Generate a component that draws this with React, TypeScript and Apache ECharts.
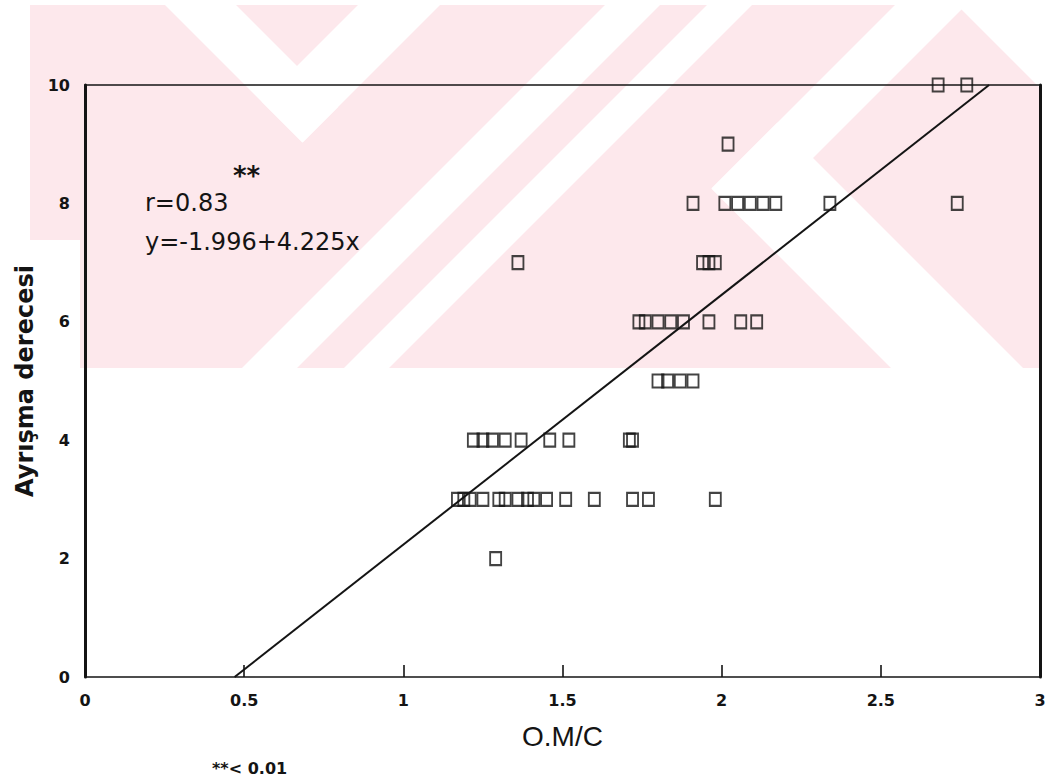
import React, { useEffect, useRef } from 'react';
import * as echarts from 'echarts';

// ---- data ----
const xTickLabels = ['0', '0.5', '1', '1.5', '2', '2.5', '3'];
const yTickLabels = ['0', '2', '4', '6', '8', '10'];

// O.M/C values observed at each "Ayrışma derecesi" level
const omcDeg10 = [2.68, 2.77];
const omcDeg9 = [2.02];
const omcDeg8 = [1.91, 2.01, 2.05, 2.09, 2.13, 2.17, 2.34, 2.74];
const omcDeg7 = [1.36, 1.94, 1.96, 1.98];
const omcDeg6 = [1.74, 1.76, 1.8, 1.84, 1.88, 1.96, 2.06, 2.11];
const omcDeg5 = [1.8, 1.83, 1.87, 1.91];
const omcDeg4 = [1.22, 1.25, 1.28, 1.32, 1.37, 1.46, 1.52, 1.71, 1.72];
const omcDeg3 = [1.17, 1.19, 1.21, 1.25, 1.3, 1.32, 1.36, 1.39, 1.41, 1.45, 1.51, 1.6, 1.72, 1.77, 1.98];
const omcDeg2 = [1.29];

const degreeLevels = [10, 9, 8, 7, 6, 5, 4, 3, 2];
const omcByLevel = [omcDeg10, omcDeg9, omcDeg8, omcDeg7, omcDeg6, omcDeg5, omcDeg4, omcDeg3, omcDeg2];

// regression line y = -1.996 + 4.225x, end points on the frame
const fitLine = [
  [0.47, 0],
  [2.84, 10],
];

const xName = 'O.M/C';
const yName = 'Ayrışma derecesi';
const rText = 'r=0.83';
const eqText = 'y=-1.996+4.225x';
const sigMark = '**';
const sigNote = '**< 0.01';

const ink = '#141414';
const pink = '#fde8ec';

type Pt = [number, number];

// clip polygon by half plane a*x + b*y <= c
function clipHalf(poly: Pt[], a: number, b: number, c: number): Pt[] {
  const out: Pt[] = [];
  for (let i = 0; i < poly.length; i++) {
    const p = poly[i];
    const q = poly[(i + 1) % poly.length];
    const fp = a * p[0] + b * p[1] - c;
    const fq = a * q[0] + b * q[1] - c;
    if (fp <= 0) out.push(p);
    if ((fp < 0 && fq > 0) || (fp > 0 && fq < 0)) {
      const t = fp / (fp - fq);
      out.push([p[0] + t * (q[0] - p[0]), p[1] + t * (q[1] - p[1])]);
    }
  }
  return out;
}

const WM = { x0: 30, x1: 1040, y0: 5, y1: 368 };
function rectPoly(): Pt[] {
  return [
    [WM.x0, WM.y0],
    [WM.x1, WM.y0],
    [WM.x1, WM.y1],
    [WM.x0, WM.y1],
  ];
}
// constraints: [a,b,c] meaning a*x+b*y<=c
function region(cons: [number, number, number][]): Pt[] {
  let p = rectPoly();
  for (const [a, b, c] of cons) p = clipHalf(p, a, b, c);
  return p;
}
// helpers: d = x - y (for "\" edges), s = x + y (for "/" edges)
const dMin = (v: number): [number, number, number] => [-1, 1, -v];
const dMax = (v: number): [number, number, number] => [1, -1, v];
const sMin = (v: number): [number, number, number] => [-1, -1, -v];
const sMax = (v: number): [number, number, number] => [1, 1, v];
const xMax = (v: number): [number, number, number] => [1, 0, v];
const yMin = (v: number): [number, number, number] => [0, -1, -v];

function watermark() {
  const whites: [number, number, number][][] = [
    // left white "V"
    [dMin(160), dMax(231), sMax(445)],
    [sMin(363), sMax(445), dMin(160)],
    // middle white "/" bands
    [sMin(610), sMax(665)],
    [sMin(712), sMax(757)],
    // right white "<"
    [sMin(900), sMax(971), dMin(523)],
    [dMin(523), dMax(655), sMin(900)],
    // white beyond the right edge of the mark
    [dMin(952)],
    // white strip left of the frame, lower part
    [xMax(80), yMin(240)],
  ];
  const els: any[] = [
    {
      type: 'polygon',
      z: -10,
      silent: true,
      shape: { points: rectPoly() },
      style: { fill: pink, stroke: null },
    },
  ];
  for (const w of whites) {
    const pts = region(w);
    if (pts.length >= 3) {
      els.push({
        type: 'polygon',
        z: -9,
        silent: true,
        shape: { points: pts },
        style: { fill: '#ffffff', stroke: null },
      });
    }
  }
  return els;
}

export default function App() {
  const ref = useRef<HTMLDivElement>(null);
  useEffect(() => {
    if (!ref.current) return;
    const chart = echarts.init(ref.current, undefined, { renderer: 'svg' });
    const points: number[][] = [];
    degreeLevels.forEach((d, i) => {
      omcByLevel[i].forEach((x) => points.push([x, d]));
    });
    const labelFont = {
      color: ink,
      fontFamily: 'DejaVu Sans',
      fontWeight: 'bold' as const,
      fontSize: 16,
    };
    const option: any = {
      animation: false,
      backgroundColor: '#ffffff',
      grid: { left: 85, right: 12, top: 85, bottom: 104, containLabel: false },
      xAxis: [
        {
          type: 'value',
          min: 0,
          max: 3,
          interval: 0.5,
          position: 'bottom',
          axisLine: { show: true, onZero: false, lineStyle: { color: ink, width: 1.6 } },
          axisTick: { show: true, inside: true, length: 12, lineStyle: { color: ink, width: 1.6 } },
          axisLabel: {
            ...labelFont,
            margin: 15,
            formatter: (_v: number, idx: number) => xTickLabels[idx] ?? '',
          },
          splitLine: { show: false },
          name: xName,
          nameLocation: 'middle',
          nameGap: 45,
          nameTextStyle: { color: ink, fontFamily: 'Liberation Sans', fontSize: 28 },
        },
        {
          type: 'value',
          min: 0,
          max: 3,
          position: 'top',
          axisLine: { show: true, onZero: false, lineStyle: { color: ink, width: 1.6 } },
          axisTick: { show: false },
          axisLabel: { show: false },
          splitLine: { show: false },
        },
      ],
      yAxis: [
        {
          type: 'value',
          min: 0,
          max: 10,
          interval: 2,
          position: 'left',
          axisLine: { show: true, onZero: false, lineStyle: { color: ink, width: 3 } },
          axisTick: { show: false },
          axisLabel: {
            ...labelFont,
            margin: 15,
            formatter: (_v: number, idx: number) => yTickLabels[idx] ?? '',
          },
          splitLine: { show: false },
          name: yName,
          nameLocation: 'middle',
          nameGap: 46,
          nameRotate: 90,
          nameTextStyle: { color: ink, fontFamily: 'DejaVu Sans', fontWeight: 'bold', fontSize: 24 },
        },
        {
          type: 'value',
          min: 0,
          max: 10,
          position: 'right',
          axisLine: { show: true, onZero: false, lineStyle: { color: ink, width: 3 } },
          axisTick: { show: false },
          axisLabel: { show: false },
          splitLine: { show: false },
        },
      ],
      series: [
        {
          type: 'line',
          data: fitLine,
          symbol: 'none',
          lineStyle: { color: ink, width: 2 },
          z: 3,
        },
        {
          type: 'scatter',
          data: points,
          symbol: 'rect',
          symbolSize: [11, 13],
          itemStyle: { color: 'rgba(255,255,255,0)', borderColor: ink, borderWidth: 2 },
          z: 4,
        },
      ],
      graphic: {
        elements: [
          ...watermark(),
          {
            type: 'text',
            x: 233,
            y: 163,
            z: 10,
            style: { text: sigMark, fill: ink, fontFamily: 'DejaVu Sans', fontWeight: 'bold', fontSize: 26, align: 'left', verticalAlign: 'top' },
          },
          {
            type: 'text',
            x: 145,
            y: 203,
            z: 10,
            style: { text: rText, fill: ink, fontFamily: 'DejaVu Sans', fontSize: 24, align: 'left', verticalAlign: 'middle' },
          },
          {
            type: 'text',
            x: 145,
            y: 242,
            z: 10,
            style: { text: eqText, fill: ink, fontFamily: 'DejaVu Sans', fontSize: 24, align: 'left', verticalAlign: 'middle' },
          },
          {
            type: 'text',
            x: 212,
            y: 768,
            z: 10,
            style: { text: sigNote, fill: ink, fontFamily: 'DejaVu Sans', fontWeight: 'bold', fontSize: 16, align: 'left', verticalAlign: 'middle' },
          },
        ],
      },
    };
    chart.setOption(option);
    return () => chart.dispose();
  }, []);
  return (
    <div
      ref={ref}
      style={{ position: 'fixed', left: 0, top: 0, width: 1052, height: 781, background: '#fff' }}
    />
  );
}
